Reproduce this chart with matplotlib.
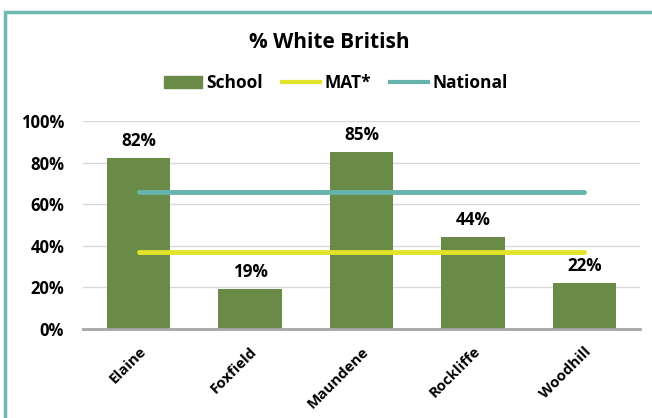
import matplotlib
matplotlib.use("Agg")
import matplotlib.pyplot as plt
from matplotlib.patches import Rectangle
from matplotlib.lines import Line2D
from matplotlib.ticker import FuncFormatter

categories = ["Elaine", "Foxfield", "Maundene", "Rockliffe", "Woodhill"]
school = [82, 19, 85, 44, 22]
mat_value = 37
national_value = 66
yticks = [0, 20, 40, 60, 80, 100]

GREEN = "#6A8B47"
YELLOW = "#E3E32B"
TEAL = "#66B4AD"
FRAME = "#70B9B1"

plt.rcParams['font.family'] = ['Open Sans', 'DejaVu Sans']
plt.rcParams['font.weight'] = 'bold'

W, H = 652, 418
fig = plt.figure(figsize=(W/100, H/100), dpi=100)
ax = fig.add_axes([83/W, 1-329/H, (640-83)/W, (329-121)/H])

x = list(range(len(categories)))
ax.bar(x, school, width=0.57, color=GREEN, zorder=3)
ax.plot([x[0], x[-1]], [mat_value]*2, color=YELLOW, lw=3.5, solid_capstyle='round', zorder=4)
ax.plot([x[0], x[-1]], [national_value]*2, color=TEAL, lw=3.5, solid_capstyle='round', zorder=4)

for xi, v in zip(x, school):
    ax.text(xi, v + 4, f"{v}%", ha='center', va='bottom', fontsize=12.3, fontweight='bold')

ax.set_xlim(-0.5, len(categories)-0.5)
ax.set_ylim(0, 100)
ax.set_yticks(yticks)
ax.yaxis.set_major_formatter(FuncFormatter(lambda v, p: f"{int(v)}%"))
ax.grid(axis='y', color='#D9D9D9', lw=1, zorder=0)
for s in ['top', 'right', 'left']:
    ax.spines[s].set_visible(False)
ax.spines['bottom'].set_color('#A6A6A6')
ax.spines['bottom'].set_linewidth(2)
ax.spines['bottom'].set_zorder(5)
ax.tick_params(axis='both', length=0, labelsize=12)
ax.tick_params(axis='y', pad=13.5)
ax.set_xticks(x)
ax.set_xticklabels(categories, rotation=45, ha='right', va='top', rotation_mode='anchor', fontsize=10.8, fontweight='bold')
ax.tick_params(axis='x', pad=11)
for lbl in ax.get_yticklabels():
    lbl.set_fontweight('bold')

fig.text(329/W, 1-42/H, "% White British", ha='center', va='center', fontsize=15, fontweight='bold')

handles = [Rectangle((0, 0), 1, 1, color=GREEN),
           Line2D([0], [0], color=YELLOW, lw=3),
           Line2D([0], [0], color=TEAL, lw=3)]
fig.legend(handles, ["School", "MAT*", "National"], loc='center', bbox_to_anchor=(336/W, 1-83/H),
           ncol=3, frameon=False, handlelength=2.2, handleheight=0.75,
           columnspacing=1.1, handletextpad=0.25, prop={'weight': 'bold', 'size': 12.5})

fig.patches.append(Rectangle((5/W, -0.1), 1.2, 1-12/H+0.1, transform=fig.transFigure,
                             fill=False, edgecolor=FRAME, lw=2.5, zorder=10))

fig.savefig("out.png", dpi=100)
